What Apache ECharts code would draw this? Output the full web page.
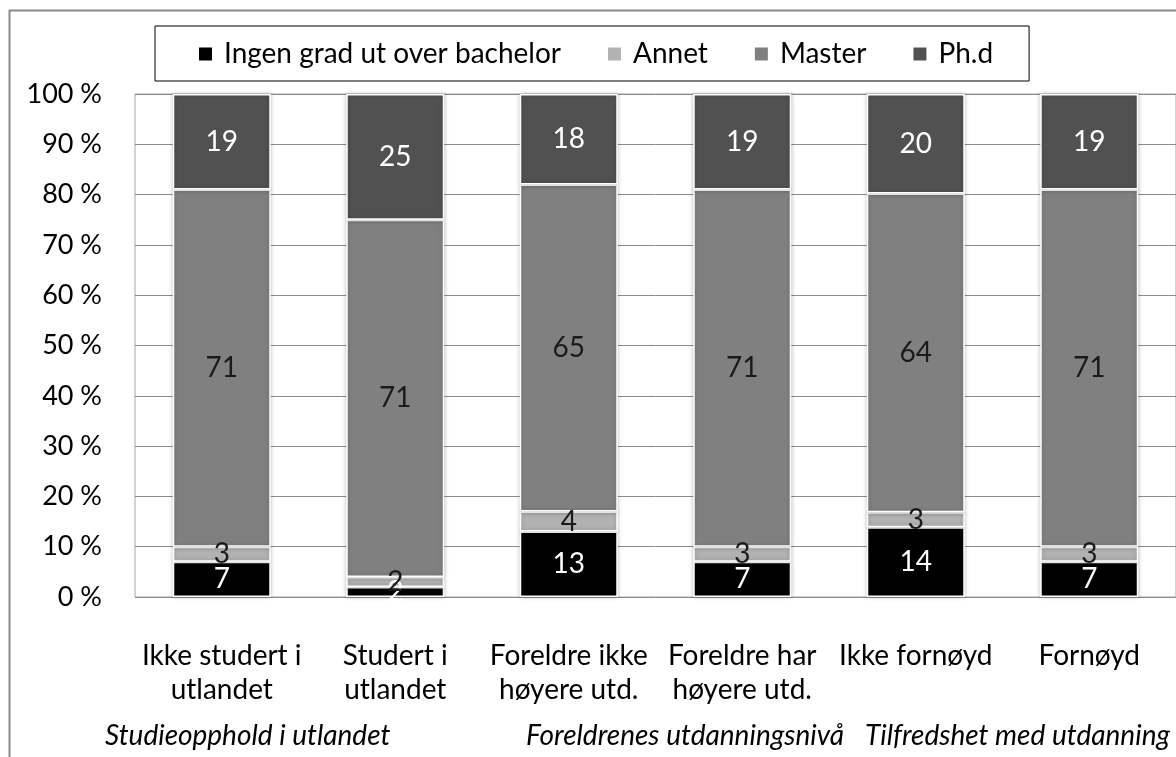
<!DOCTYPE html>
<html>
<head>
<meta charset="utf-8">
<script src="https://cdn.jsdelivr.net/npm/echarts@6/dist/echarts.min.js"></script>
<style>
html, body { margin: 0; padding: 0; background: #fff; }
#main { width: 1176px; height: 757px; }
</style>
</head>
<body>
<div id="main"></div>
<script>
// data
var categories = ['Ikke studert i\nutlandet', 'Studert i\nutlandet', 'Foreldre ikke\nhøyere utd.', 'Foreldre har\nhøyere utd.', 'Ikke fornøyd', 'Fornøyd'];
var seriesNames = ['Ingen grad ut over bachelor', 'Annet', 'Master', 'Ph.d'];
var ingen = [7, 2, 13, 7, 14, 7];
var annet = [3, 2, 4, 3, 3, 3];
var master = [71, 71, 65, 71, 64, 71];
var phd = [19, 25, 18, 19, 20, 19];
var groupLabels = ['Studieopphold i utlandet', 'Foreldrenes utdanningsnivå', 'Tilfredshet med utdanning'];
var yTicks = [0, 10, 20, 30, 40, 50, 60, 70, 80, 90, 100];

var FONT = 'Lato';
var colors = ['#000000', '#b2b2b2', '#808080', '#515151'];
var labelColors = ['#ffffff', '#1a1a1a', '#1a1a1a', '#ffffff'];
var all = [ingen, annet, master, phd];

// totaler per stolpe, for 100 % stabling
var totals = categories.map(function (c, i) {
	return ingen[i] + annet[i] + master[i] + phd[i];
});

var myChart = echarts.init(document.getElementById('main'), null, { renderer: 'canvas' });

var series = all.map(function (arr, k) {
	return {
		name: seriesNames[k],
		type: 'bar',
		stack: 'total',
		barWidth: 98,
		data: arr.map(function (v, i) {
			return { value: v / totals[i] * 100, raw: v };
		}),
		itemStyle: {
			color: colors[k],
			borderColor: '#ffffff',
			borderWidth: 1.5,
			shadowBlur: 4,
			shadowColor: 'rgba(0,0,0,0.25)'
		},
		label: {
			show: true,
			position: 'inside',
			color: labelColors[k],
			fontFamily: FONT,
			fontSize: 28,
			formatter: function (p) { return p.data.raw; }
		}
	};
});

var option = {
	animation: false,
	backgroundColor: '#ffffff',
	legend: {
		data: seriesNames,
		left: 155,
		top: 26,
		padding: [14, 36, 13, 42],
		borderColor: '#000',
		borderWidth: 1,
		itemWidth: 15,
		itemHeight: 15,
		itemGap: 45,
		icon: 'rect',
		textStyle: {
			fontFamily: FONT,
			fontSize: 28,
			color: '#000',
			padding: [0, 0, 0, 6]
		}
	},
	grid: {
		left: 135,
		top: 94,
		width: 1044,
		height: 503,
		show: true,
		borderColor: '#a6a6a6',
		borderWidth: 1
	},
	xAxis: {
		type: 'category',
		data: categories,
		axisLine: { show: false },
		axisTick: { show: false },
		axisLabel: {
			fontFamily: FONT,
			fontSize: 28,
			lineHeight: 34,
			color: '#000',
			margin: 42,
			interval: 0
		}
	},
	yAxis: {
		type: 'value',
		min: yTicks[0],
		max: yTicks[yTicks.length - 1],
		interval: 10,
		axisLine: { show: false },
		axisTick: { show: false },
		splitLine: { lineStyle: { color: '#8c8c8c', width: 1 } },
		axisLabel: {
			fontFamily: FONT,
			fontSize: 27,
			color: '#000',
			margin: 33,
			formatter: '{value} %'
		}
	},
	graphic: [
		{
			type: 'rect',
			shape: { x: 9.5, y: 10.5, width: 1300, height: 900 },
			style: { fill: null, stroke: '#8a8a8a', lineWidth: 2 },
			silent: true
		},
		{
			type: 'text', left: 105, top: 722,
			style: { text: groupLabels[0], font: 'italic 28px ' + FONT, fill: '#000' }
		},
		{
			type: 'text', left: 526, top: 722,
			style: { text: groupLabels[1], font: 'italic 28px ' + FONT, fill: '#000' }
		},
		{
			type: 'text', left: 865, top: 722,
			style: { text: groupLabels[2], font: 'italic 28px ' + FONT, fill: '#000' }
		}
	],
	series: series
};

myChart.setOption(option);
</script>
</body>
</html>
